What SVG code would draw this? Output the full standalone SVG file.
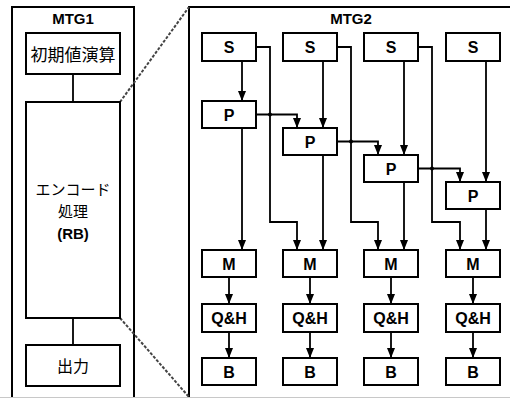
<svg xmlns="http://www.w3.org/2000/svg" width="510" height="399" viewBox="0 0 510 399">
<defs>
<marker id="arr" markerUnits="userSpaceOnUse" markerWidth="11" markerHeight="9" refX="10" refY="4" orient="auto">
<path d="M0,0 L10,4 L0,8 z" fill="#000"/>
</marker>
<style>
.frame{fill:none;stroke:#000;stroke-width:2}
.box{fill:#fff;stroke:#000;stroke-width:2}
.lbl{font-family:"Liberation Sans",Arial,sans-serif;font-weight:bold;font-size:16px;text-anchor:middle;fill:#000}
.ttl{font-family:"Liberation Sans",Arial,sans-serif;font-weight:bold;font-size:15px;text-anchor:middle;fill:#000}
.jp{font-family:"Noto Sans CJK JP","Noto Sans CJK SC",sans-serif;text-anchor:middle;fill:#000}
.ln{fill:none;stroke:#000;stroke-width:1.8}
.ar{fill:none;stroke:#000;stroke-width:1.8;marker-end:url(#arr)}
.dash{fill:none;stroke:#444;stroke-width:2;stroke-dasharray:3,1.6}
.dot{fill:#000}
</style>
</defs>
<rect width="510" height="399" fill="#fff"/>

<g id="MTG1">
<path class="frame" d="M12,397 V7 H134 V397"/>
<text class="ttl" x="73" y="24">MTG1</text>
</g>
<g id="MTG2">
<path class="frame" d="M189,397 V7 H512"/>
<text class="ttl" x="351" y="24">MTG2</text>
</g>

<g id="connectors">
<path class="ln" d="M73,74 V102"/>
<path class="ln" d="M73,318 V345"/>
<path class="dash" d="M120,102 L189,7"/>
<path class="dash" d="M120,318 L189,397"/>

<path class="ar" d="M242,61 V101"/>
<path class="ar" d="M323,61 V128"/>
<path class="ar" d="M404,61 V155"/>
<path class="ar" d="M486,61 V182"/>

<path class="ar" d="M242,128 V250"/>
<path class="ar" d="M323,155 V250"/>
<path class="ar" d="M404,182 V250"/>
<path class="ar" d="M486,209 V250"/>

<path class="ar" d="M256,47 H270 V222 H297 V250"/>
<path class="ar" d="M337,47 H351 V222 H378 V250"/>
<path class="ar" d="M418,47 H432 V222 H460 V250"/>

<path class="ar" d="M256,114.5 H297 V128"/>
<path class="ar" d="M337,141.5 H378 V155"/>
<path class="ar" d="M418,168.5 H460 V182"/>
<circle class="dot" cx="270" cy="114.5" r="2"/>
<circle class="dot" cx="351" cy="141.5" r="2"/>
<circle class="dot" cx="432" cy="168.5" r="2"/>

<path class="ar" d="M229,277 V304"/>
<path class="ar" d="M310,277 V304"/>
<path class="ar" d="M391,277 V304"/>
<path class="ar" d="M473,277 V304"/>
<path class="ar" d="M229,332 V358"/>
<path class="ar" d="M310,332 V358"/>
<path class="ar" d="M391,332 V358"/>
<path class="ar" d="M473,332 V358"/>
</g>

<g id="init"><rect class="box" x="26" y="33" width="94" height="41"/><text class="jp" x="73" y="61" font-size="17">初期値演算</text></g>
<g id="encode"><rect class="box" x="26" y="102" width="94" height="216"/>
<text class="jp" x="73" y="195" font-size="15">エンコード</text>
<text class="jp" x="73" y="217" font-size="15">処理</text>
<text class="ttl" x="73" y="239">(RB)</text></g>
<g id="output"><rect class="box" x="26" y="345" width="94" height="41"/><text class="jp" x="73" y="372" font-size="16">出力</text></g>

<g id="S1"><rect class="box" x="202" y="33" width="54" height="28"/><text class="lbl" x="229" y="53">S</text></g>
<g id="S2"><rect class="box" x="283" y="33" width="54" height="28"/><text class="lbl" x="310" y="53">S</text></g>
<g id="S3"><rect class="box" x="364" y="33" width="54" height="28"/><text class="lbl" x="391" y="53">S</text></g>
<g id="S4"><rect class="box" x="446" y="33" width="54" height="28"/><text class="lbl" x="473" y="53">S</text></g>

<g id="P1"><rect class="box" x="202" y="101" width="54" height="27"/><text class="lbl" x="229" y="120.5">P</text></g>
<g id="P2"><rect class="box" x="283" y="128" width="54" height="27"/><text class="lbl" x="310" y="147.5">P</text></g>
<g id="P3"><rect class="box" x="364" y="155" width="54" height="27"/><text class="lbl" x="391" y="174.5">P</text></g>
<g id="P4"><rect class="box" x="446" y="182" width="54" height="27"/><text class="lbl" x="473" y="201.5">P</text></g>

<g id="M1"><rect class="box" x="202" y="250" width="54" height="27"/><text class="lbl" x="229" y="269.5">M</text></g>
<g id="M2"><rect class="box" x="283" y="250" width="54" height="27"/><text class="lbl" x="310" y="269.5">M</text></g>
<g id="M3"><rect class="box" x="364" y="250" width="54" height="27"/><text class="lbl" x="391" y="269.5">M</text></g>
<g id="M4"><rect class="box" x="446" y="250" width="54" height="27"/><text class="lbl" x="473" y="269.5">M</text></g>

<g id="QH1"><rect class="box" x="202" y="304" width="54" height="28"/><text class="lbl" x="229" y="324">Q&amp;H</text></g>
<g id="QH2"><rect class="box" x="283" y="304" width="54" height="28"/><text class="lbl" x="310" y="324">Q&amp;H</text></g>
<g id="QH3"><rect class="box" x="364" y="304" width="54" height="28"/><text class="lbl" x="391" y="324">Q&amp;H</text></g>
<g id="QH4"><rect class="box" x="446" y="304" width="54" height="28"/><text class="lbl" x="473" y="324">Q&amp;H</text></g>

<g id="B1"><rect class="box" x="202" y="358" width="54" height="27"/><text class="lbl" x="229" y="377.5">B</text></g>
<g id="B2"><rect class="box" x="283" y="358" width="54" height="27"/><text class="lbl" x="310" y="377.5">B</text></g>
<g id="B3"><rect class="box" x="364" y="358" width="54" height="27"/><text class="lbl" x="391" y="377.5">B</text></g>
<g id="B4"><rect class="box" x="446" y="358" width="54" height="27"/><text class="lbl" x="473" y="377.5">B</text></g>

<line x1="0" y1="397.5" x2="510" y2="397.5" stroke="#c8c8c8" stroke-width="1"/>
</svg>
